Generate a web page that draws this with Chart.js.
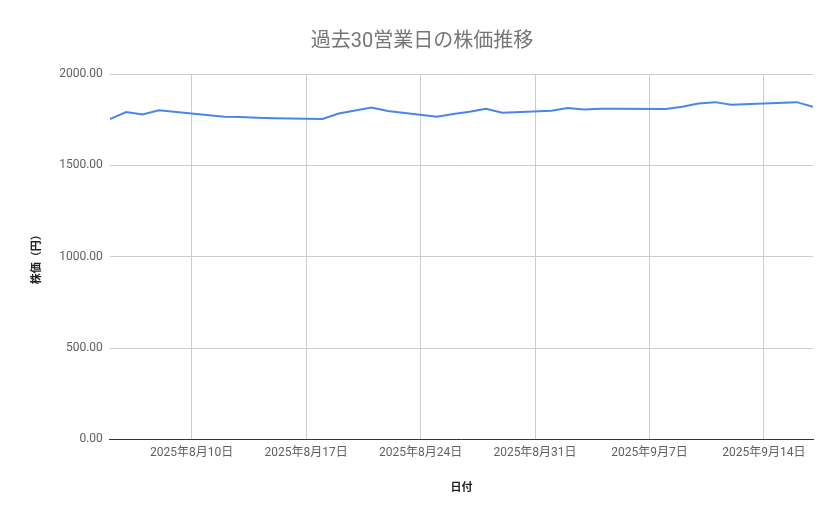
<!DOCTYPE html>
<html lang="ja">
<head>
<meta charset="utf-8">
<title>過去30営業日の株価推移</title>
<script src="https://cdn.jsdelivr.net/npm/chart.js@4/dist/chart.umd.min.js"></script>
<style>
  html, body { margin: 0; padding: 0; background: #fff; }
  #wrap { width: 839px; height: 519px; position: relative; }
</style>
</head>
<body>
<div id="wrap"><canvas id="stockChart"></canvas></div>
<script>
// 営業日（8/11 山の日, 9/15 敬老の日 は休場）
const dates = [
  "2025-08-05", "2025-08-06", "2025-08-07", "2025-08-08",
  "2025-08-12", "2025-08-13", "2025-08-14", "2025-08-15",
  "2025-08-18", "2025-08-19", "2025-08-20", "2025-08-21", "2025-08-22",
  "2025-08-25", "2025-08-26", "2025-08-27", "2025-08-28", "2025-08-29",
  "2025-09-01", "2025-09-02", "2025-09-03", "2025-09-04", "2025-09-05",
  "2025-09-08", "2025-09-09", "2025-09-10", "2025-09-11", "2025-09-12",
  "2025-09-16", "2025-09-17"
];

const prices = [
  1753, 1792, 1779, 1801,
  1766, 1765, 1761, 1758,
  1754, 1784, 1800, 1817, 1797,
  1766, 1781, 1793, 1810, 1788,
  1799, 1814, 1806, 1810, 1810,
  1808, 1821, 1839, 1846, 1832,
  1846, 1821
];

const tickDates = ["2025-08-10", "2025-08-17", "2025-08-24", "2025-08-31", "2025-09-07", "2025-09-14"];
const yTicks = [0, 500, 1000, 1500, 2000];

const baseDay = Date.UTC(2025, 7, 10);
const toDay = s => {
  const [y, m, d] = s.split("-").map(Number);
  return Math.round((Date.UTC(y, m - 1, d) - baseDay) / 86400000);
};
const dayLabel = v => {
  const dt = new Date(baseDay + v * 86400000);
  return `${dt.getUTCFullYear()}年${dt.getUTCMonth() + 1}月${dt.getUTCDate()}日`;
};

const points = dates.map((d, i) => ({ x: toDay(d), y: prices[i] }));
const xTickValues = tickDates.map(toDay);

const FONT = "Roboto, 'Noto Sans CJK JP', sans-serif";

new Chart(document.getElementById("stockChart").getContext("2d"), {
  type: "line",
  data: {
    datasets: [{
      label: "株価",
      data: points,
      borderColor: "#4a86e8",
      borderWidth: 2,
      pointRadius: 0,
      tension: 0,
      fill: false
    }]
  },
  options: {
    responsive: true,
    maintainAspectRatio: false,
    animation: false,
    layout: { padding: { left: 31, right: 26, top: 0, bottom: 20 } },
    plugins: {
      legend: { display: false },
      tooltip: { enabled: false },
      title: {
        display: true,
        text: "過去30営業日の株価推移",
        color: "#757575",
        font: { family: FONT, size: 20, weight: "normal" },
        padding: { top: 30, bottom: 20 }
      }
    },
    scales: {
      x: {
        type: "linear",
        min: toDay(dates[0]),
        max: toDay(dates[dates.length - 1]),
        afterBuildTicks: scale => {
          scale.ticks = xTickValues.map(v => ({ value: v }));
        },
        ticks: {
          autoSkip: false,
          maxRotation: 0,
          padding: 6,
          color: "#5f5f5f",
          font: { family: FONT, size: 12 },
          callback: v => dayLabel(v)
        },
        grid: { color: "#cccccc", drawTicks: false },
        border: { display: true, color: "#333333", width: 1 },
        title: {
          display: true,
          text: "日付",
          color: "#222222",
          font: { family: FONT, size: 11, weight: "bold" },
          padding: { top: 16, bottom: 4 }
        }
      },
      y: {
        min: 0,
        max: 2000,
        afterBuildTicks: scale => {
          scale.ticks = yTicks.map(v => ({ value: v }));
        },
        ticks: {
          padding: 7,
          color: "#5f5f5f",
          font: { family: FONT, size: 12 },
          callback: v => Number(v).toFixed(2)
        },
        grid: { color: "#cccccc", drawTicks: false },
        border: { display: false },
        title: {
          display: true,
          text: "株価（円）",
          color: "#222222",
          font: { family: FONT, size: 11, weight: "bold" },
          padding: { top: 0, bottom: 8 }
        }
      }
    }
  }
});
</script>
</body>
</html>
